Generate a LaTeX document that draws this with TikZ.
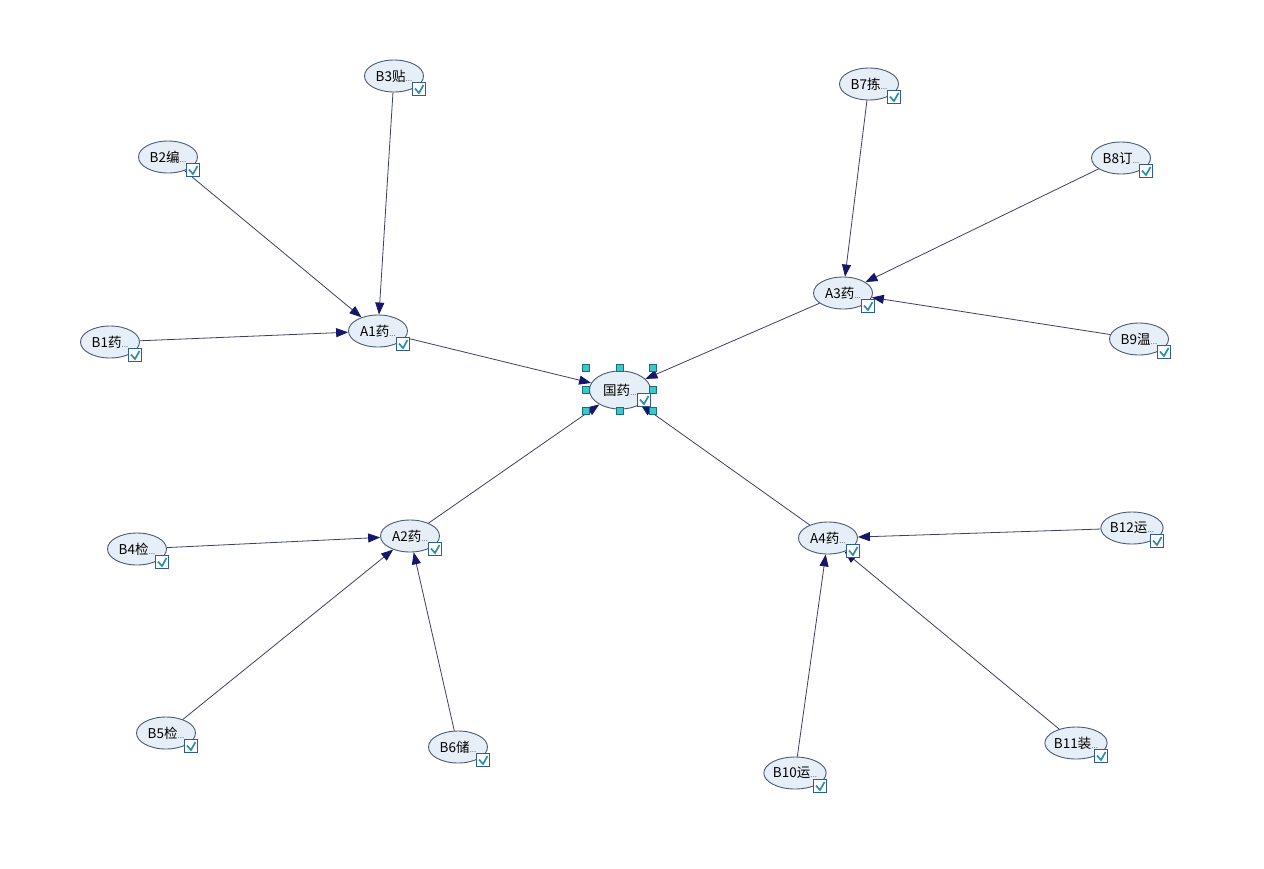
\documentclass[tikz,border=0pt]{standalone}
\usepackage{fontspec}
\newfontfamily\cjk{Noto Sans CJK SC}
\usetikzlibrary{shapes.geometric,arrows.meta}
\definecolor{nodefill}{HTML}{E6EFF7}
\definecolor{nodeline}{HTML}{4A5A78}
\definecolor{edgecol}{HTML}{3C3F66}
\definecolor{tipcol}{HTML}{15186A}
\definecolor{chkline}{HTML}{2E5A96}
\definecolor{chkmark}{HTML}{2A8FA8}
\definecolor{handfill}{HTML}{3CC8C8}
\definecolor{handline}{HTML}{1E6E78}
\definecolor{dotcol}{HTML}{707070}
\newcommand{\lbl}[1]{#1{\color{dotcol}\fontsize{8}{8}\selectfont...}\hspace{9pt}}
\tikzset{
  bn/.style={ellipse, draw=nodeline, fill=nodefill, line width=0.9pt,
    minimum width=59pt, minimum height=32pt, inner sep=0pt,
    font=\cjk\fontsize{13.5}{15}\selectfont, text=black},
  cn/.style={bn, minimum width=61pt, minimum height=38pt},
  chk/.style={rectangle, draw=chkline, fill=white, line width=1.1pt,
    minimum size=13pt, inner sep=0pt,
    path picture={\draw[chkmark, line width=1.7pt]
      ([xshift=2.5pt,yshift=0.5pt]path picture bounding box.west) --
      ([yshift=2.5pt]path picture bounding box.south) --
      ([xshift=-2pt,yshift=-2.5pt]path picture bounding box.north east);}},
  hd/.style={rectangle, draw=handline, fill=handfill, line width=0.7pt,
    minimum size=7pt, inner sep=0pt},
  ar/.style={draw=edgecol, line width=0.8pt,
    -{Triangle[length=12pt,width=9pt,fill=tipcol,color=tipcol]}},
}
\begin{document}
\begin{tikzpicture}[x=1pt,y=-1pt]
\useasboundingbox[fill=white] (0,0) rectangle (1264,868);
% nodes
\node[cn] (C) at (620,390) {\lbl{国药}};
\node[bn] (A1) at (378,331) {\lbl{A1药}};
\node[bn] (A2) at (410,536) {\lbl{A2药}};
\node[bn] (A3) at (843,293) {\lbl{A3药}};
\node[bn] (A4) at (828,538) {\lbl{A4药}};
\node[bn] (B1) at (110,342) {\lbl{B1药}};
\node[bn] (B2) at (168,157) {\lbl{B2编}};
\node[bn] (B3) at (394,76) {\lbl{B3贴}};
\node[bn] (B4) at (137,549) {\lbl{B4检}};
\node[bn] (B5) at (166,733) {\lbl{B5检}};
\node[bn] (B6) at (458,747) {\lbl{B6储}};
\node[bn] (B7) at (869,84) {\lbl{B7拣}};
\node[bn] (B8) at (1121,158) {\lbl{B8订}};
\node[bn] (B9) at (1139,339) {\lbl{B9温}};
\node[bn] (B10) at (795,773) {\lbl{B10运}};
\node[bn] (B11) at (1076,743) {\lbl{B11装}};
\node[bn] (B12) at (1132,528) {\lbl{B12运}};
% edges
\foreach \s/\t in {B1/A1,B2/A1,B3/A1,B4/A2,B5/A2,B6/A2,B7/A3,B8/A3,B9/A3,B10/A4,B11/A4,B12/A4,A1/C,A2/C,A3/C,A4/C}
  \draw[ar] (\s) -- (\t);
% checkboxes
\foreach \n in {A1,A2,A3,A4,B1,B2,B3,B4,B5,B6,B7,B8,B9,B10,B11,B12}
  \node[chk] (k\n) at ([xshift=25pt,yshift=-13pt]\n.center) {};
\node[chk] (kC) at ([xshift=24pt,yshift=-10pt]C.center) {};
% selection handles
\node[hd] (h1) at (586,368) {};
\node[hd] (h2) at (620,368) {};
\node[hd] (h3) at (653,368) {};
\node[hd] (h4) at (586,390) {};
\node[hd] (h5) at (653,390) {};
\node[hd] (h6) at (586,411) {};
\node[hd] (h7) at (620,411) {};
\node[hd] (h8) at (653,411) {};
\end{tikzpicture}
\end{document}
